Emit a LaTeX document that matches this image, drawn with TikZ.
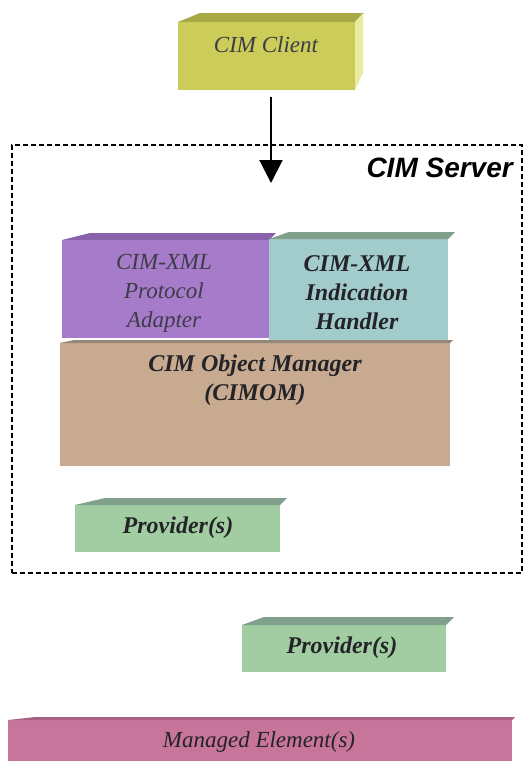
\documentclass[tikz,border=0pt]{standalone}
\usepackage{fontspec}
\setmainfont{Liberation Serif}
\newfontfamily\serverfont{Liberation Sans}
\usetikzlibrary{arrows.meta}

\definecolor{clientfront}{RGB}{204,204,88}
\definecolor{clienttop}{RGB}{168,168,70}
\definecolor{clientside}{RGB}{234,234,160}
\definecolor{adapterfront}{RGB}{166,124,202}
\definecolor{adaptertop}{RGB}{138,98,172}
\definecolor{handlerfront}{RGB}{162,204,204}
\definecolor{greytop}{RGB}{128,160,140}
\definecolor{cimomfront}{RGB}{200,170,145}
\definecolor{cimomtop}{RGB}{150,135,120}
\definecolor{providerfront}{RGB}{162,204,162}
\definecolor{managedfront}{RGB}{200,117,156}
\definecolor{managedtop}{RGB}{168,96,128}
\definecolor{inktext}{RGB}{35,35,40}
\definecolor{softtext}{RGB}{60,60,72}

\newcommand\slabtop[4]{% node, slope run, depth, colour
  \fill[#4] (#1.north west) -- ++(#2,-#3) -- ([shift={(#3,-#3)}]#1.north east)
    -- (#1.north east) -- cycle;}

\begin{document}
\begin{tikzpicture}[x=1pt,y=-1pt,
  slab/.style={anchor=north west, inner sep=0pt, outer sep=0pt, draw=none},
  boxtext/.style={font=\fontsize{23}{29}\selectfont\itshape, text=inktext, align=center, inner sep=0pt},
  boldtext/.style={boxtext, font=\fontsize{24}{29}\selectfont\bfseries\itshape},
  flow/.style={line width=2pt, -{Triangle[length=23pt,width=23pt]}}]
\useasboundingbox (0,0) rectangle (526,761);

% CIM client block
\node[slab, fill=clientfront, minimum width=177pt, minimum height=68pt] (client) at (178,22) {};
\slabtop{client}{22}{9}{clienttop}
\fill[clientside] (client.north east) -- ++(8,-9) -- ++(0,60) -- (client.south east) -- cycle;
\node[boxtext, text=softtext, anchor=base] (clientlabel) at (266,52) {CIM Client};

% server boundary
\node[slab, draw=black, line width=2pt, dash pattern=on 5pt off 3pt,
      minimum width=510pt, minimum height=428pt] (server) at (12,145) {};
\node[anchor=base east, inner sep=0pt, font=\serverfont\fontsize{28}{30}\selectfont\bfseries\itshape]
  (serverlabel) at (513,177) {CIM Server};

% request arrow into the server
\coordinate (arrowend) at (271,183);
\draw[flow, shorten <=7pt] (arrowend |- client.south) -- (arrowend);

% protocol adapter and indication handler
\node[slab, fill=adapterfront, minimum width=207pt, minimum height=98pt] (adapter) at (62,240) {};
\slabtop{adapter}{28}{7}{adaptertop}
\node[slab, fill=handlerfront, minimum width=179pt, minimum height=103pt] (handler) at (269,239) {};
\slabtop{handler}{20}{7}{greytop}
\node[boxtext, text=softtext] (adapterlabel) at (164,293) {CIM-XML\\Protocol\\Adapter};
\node[boldtext] (handlerlabel) at (357,293) {CIM-XML\\Indication\\Handler};

% object manager
\node[slab, fill=cimomfront, minimum width=390pt, minimum height=123pt] (cimom) at (60,343) {};
\slabtop{cimom}{14}{3}{cimomtop}
\node[boldtext] (cimomlabel) at (255,380) {CIM Object Manager\\(CIMOM)};

% providers
\node[slab, fill=providerfront, minimum width=205pt, minimum height=47pt] (provin) at (75,505) {};
\slabtop{provin}{30}{7}{greytop}
\node[boldtext, anchor=base] (provinlabel) at (178,533) {Provider(s)};

\node[slab, fill=providerfront, minimum width=204pt, minimum height=47pt] (provout) at (242,625) {};
\slabtop{provout}{22}{8}{greytop}
\node[boldtext, anchor=base] (provoutlabel) at (342,653) {Provider(s)};

% managed elements
\node[slab, fill=managedfront, minimum width=504pt, minimum height=50pt] (managed) at (8,720) {};
\slabtop{managed}{27}{3}{managedtop}
\node[boxtext, anchor=base] (managedlabel) at (259,747) {Managed Element(s)};
\end{tikzpicture}
\end{document}
